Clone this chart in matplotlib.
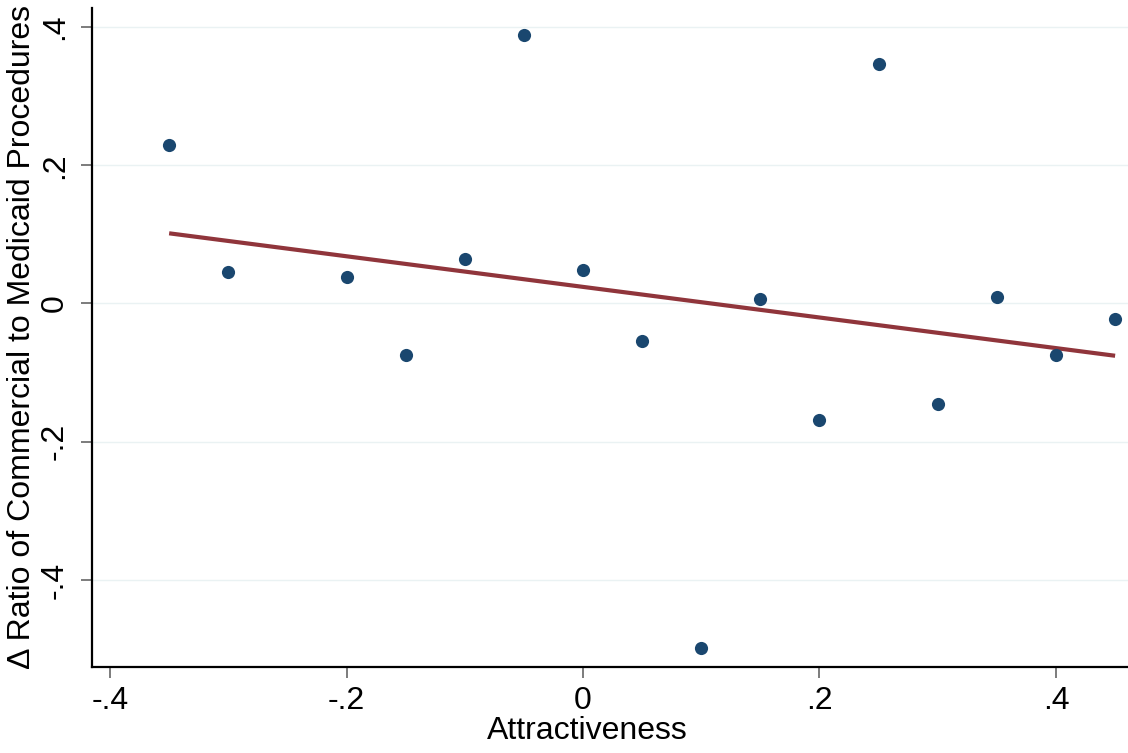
import numpy as np
import matplotlib.pyplot as plt

plt.rcParams['font.family'] = ['Liberation Sans', 'DejaVu Sans']

# binned scatter values
attract = [-0.35, -0.30, -0.20, -0.15, -0.10, -0.05, 0.00, 0.05,
           0.10, 0.15, 0.20, 0.25, 0.30, 0.35, 0.40, 0.45]
ratio = [0.229, 0.046, 0.038, -0.074, 0.065, 0.388, 0.049, -0.055,
         -0.498, 0.006, -0.168, 0.347, -0.145, 0.009, -0.075, -0.022]

xticks = [-0.4, -0.2, 0, 0.2, 0.4]
xlabels = ['-.4', '-.2', '0', '.2', '.4']
yticks = [-0.4, -0.2, 0, 0.2, 0.4]
ylabels = ['-.4', '-.2', '0', '.2', '.4']

fig = plt.figure(figsize=(11.28, 7.53), dpi=100)
ax = fig.add_axes([0.0816, 0.1142, 0.9184, 0.8752])

# linear fit like stata lfit
x = np.array(attract)
y = np.array(ratio)
b, a = np.polyfit(x, y, 1)
xs = np.array([x.min(), x.max()])

ax.scatter(x, y, s=90, color='#1a476f', zorder=3, linewidths=0)
ax.plot(xs, a + b * xs, color='#90353b', lw=3, zorder=2, solid_capstyle='butt')

ax.set_xlim(-0.4152, 0.4609)
ax.set_ylim(-0.526, 0.4275)
ax.set_xticks(xticks)
ax.set_xticklabels(xlabels)
ax.set_yticks(yticks)
ax.set_yticklabels(ylabels, rotation=90, va='center')
ax.grid(axis='y', color='#eaf2f3', lw=1)
ax.set_axisbelow(True)

for s in ['top', 'right']:
    ax.spines[s].set_visible(False)
for s in ['left', 'bottom']:
    ax.spines[s].set_linewidth(1.6)
ax.tick_params(length=8, width=1.2, color='#666666', labelsize=23, pad=6)
ax.tick_params(axis='y', pad=8)

ax.set_xlabel('Attractiveness', fontsize=23)
ax.xaxis.set_label_coords(0.478, -0.075)
ax.set_ylabel('Δ Ratio of Commercial to Medicaid Procedures', fontsize=23, labelpad=2)

fig.savefig('out.png', dpi=100)
